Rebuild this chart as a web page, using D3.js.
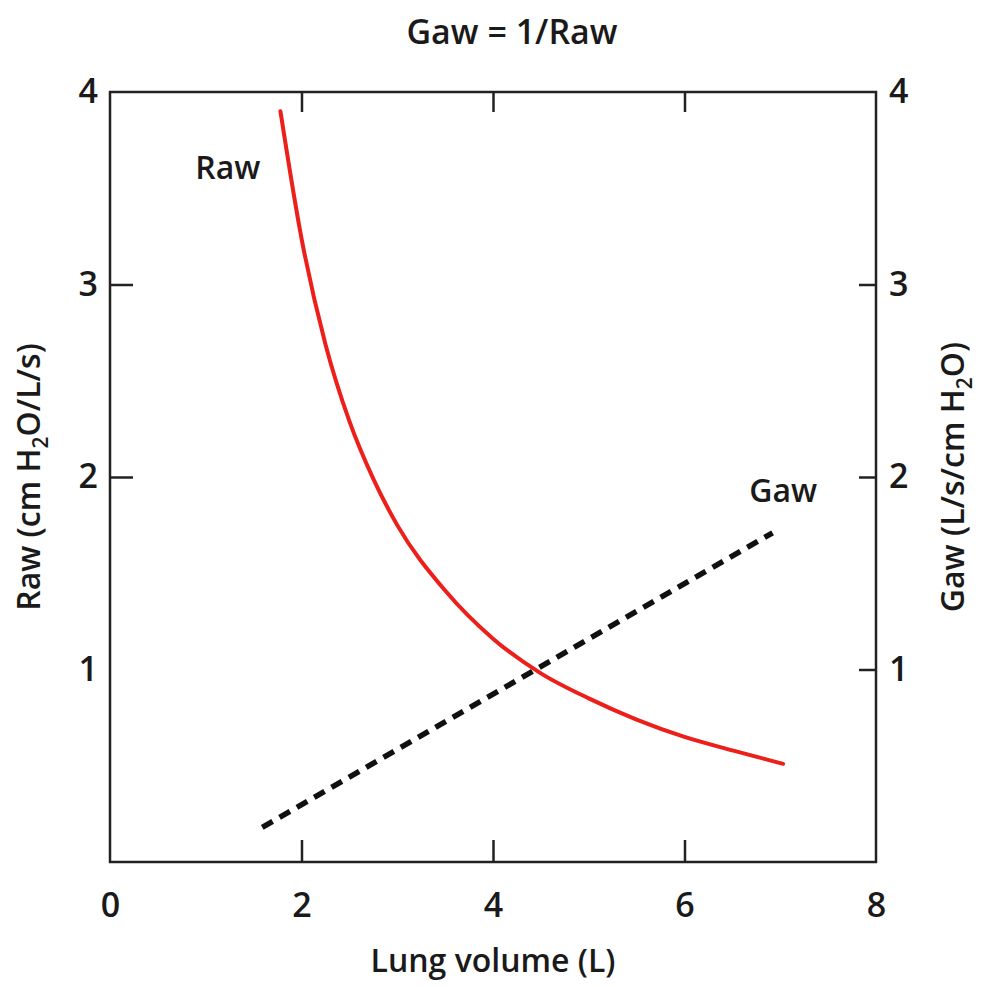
<!DOCTYPE html>
<meta charset="utf-8">
<style>
body {
    margin: 0;
    background: #fff;
    font-family: "Open Sans", "Noto Sans", sans-serif;
}
text {
    font-weight: 600;
    fill: #1a1a1a;
}
.axis .domain {
    display: none;
}
.axis line {
    stroke: #222;
    stroke-width: 2.5;
}
.axis text {
    font-size: 34px;
    font-family: "Open Sans", sans-serif;
    font-weight: 600;
    fill: #1a1a1a;
}
</style>
<body>
<svg width="982" height="987"></svg>
<script src="https://cdn.jsdelivr.net/npm/d3@7"></script>
<script>

// lung volume (L) vs airway resistance
var rawVolume = [1.78, 2.00, 2.25, 2.50, 2.75, 3.00, 3.50, 4.00, 4.50, 5.00, 5.50, 6.00, 6.50, 7.03];
var rawValues = [3.90, 3.24, 2.69, 2.29, 1.99, 1.75, 1.41, 1.16, 0.98, 0.85, 0.74, 0.65, 0.58, 0.51];

// conductance line (dashed), right axis
var gawVolume = [1.59, 6.92];
var gawValues = [0.18, 1.71];

var xTicks = [0, 2, 4, 6, 8];
var yTicks = [1, 2, 3, 4];
var xTickMarks = [2, 4, 6];
var leftTickMarks = [2, 3];
var rightTickMarks = [1, 2, 3];

var margin = {top: 92, right: 106, bottom: 125, left: 110};
var svg = d3.select("svg");
var width = 982 - margin.left - margin.right;
var height = 987 - margin.top - margin.bottom;

var x = d3.scaleLinear().domain([0, 8]).range([0, width]);
var y = d3.scaleLinear().domain([0, 4]).range([height, 0]);
var y2 = d3.scaleLinear().domain([0, 4]).range([height, 0]);

var g = svg.append("g")
    .attr("transform", "translate(" + margin.left + "," + margin.top + ")");

// bottom axis: labels at every tick, marks only inside at 2,4,6
var bottom = g.append("g")
    .attr("class", "axis")
    .attr("transform", "translate(0," + height + ")")
    .call(d3.axisBottom(x).tickValues(xTicks).tickSize(-22).tickPadding(31).tickFormat(d3.format("d")));
bottom.selectAll(".tick line").style("display", function(d) { return xTickMarks.indexOf(d) < 0 ? "none" : null; });

// top axis: inside marks, no labels
g.append("g")
    .attr("class", "axis")
    .call(d3.axisTop(x).tickValues(xTickMarks).tickSize(-20).tickFormat(""));

var left = g.append("g")
    .attr("class", "axis")
    .call(d3.axisLeft(y).tickValues(yTicks).tickSize(-23).tickPadding(12).tickFormat(d3.format("d")));
left.selectAll(".tick line").style("display", function(d) { return leftTickMarks.indexOf(d) < 0 ? "none" : null; });

var right = g.append("g")
    .attr("class", "axis")
    .attr("transform", "translate(" + width + ",0)")
    .call(d3.axisRight(y2).tickValues(yTicks).tickSize(-17).tickPadding(13).tickFormat(d3.format("d")));
right.selectAll(".tick line").style("display", function(d) { return rightTickMarks.indexOf(d) < 0 ? "none" : null; });

// frame
g.append("rect")
    .attr("width", width)
    .attr("height", height)
    .attr("fill", "none")
    .attr("stroke", "#222")
    .attr("stroke-width", 2.5);

// curves
var rawData = rawVolume.map(function(v, i) { return {v: v, r: rawValues[i]}; });
var gawData = gawVolume.map(function(v, i) { return {v: v, r: gawValues[i]}; });

g.append("path")
    .datum(gawData)
    .attr("fill", "none")
    .attr("stroke", "#111")
    .attr("stroke-width", 5.5)
    .attr("stroke-dasharray", "12,8")
    .attr("d", d3.line().x(function(d) { return x(d.v); }).y(function(d) { return y2(d.r); }));

g.append("path")
    .datum(rawData)
    .attr("fill", "none")
    .attr("stroke", "#ec1f1a")
    .attr("stroke-width", 4)
    .attr("stroke-linecap", "round")
    .attr("d", d3.line().curve(d3.curveMonotoneX).x(function(d) { return x(d.v); }).y(function(d) { return y(d.r); }));

// in-plot labels
g.append("text")
    .attr("x", x(1.23))
    .attr("y", y(3.55))
    .attr("text-anchor", "middle")
    .style("font-size", "32px")
    .text("Raw");

g.append("text")
    .attr("x", x(7.03))
    .attr("y", y(1.87))
    .attr("text-anchor", "middle")
    .style("font-size", "32px")
    .text("Gaw");

// title and axis titles
svg.append("text")
    .attr("x", 512)
    .attr("y", 44)
    .attr("text-anchor", "middle")
    .style("font-size", "34px")
    .text("Gaw = 1/Raw");

svg.append("text")
    .attr("x", margin.left + width / 2)
    .attr("y", 972)
    .attr("text-anchor", "middle")
    .style("font-size", "32px")
    .text("Lung volume (L)");

var yl = svg.append("text")
    .attr("transform", "translate(40," + (margin.top + y(2)) + ") rotate(-90)")
    .attr("text-anchor", "middle")
    .style("font-size", "32px");
yl.append("tspan").text("Raw (cm H");
yl.append("tspan").attr("dy", 8).style("font-size", "21px").text("2");
yl.append("tspan").attr("dy", -8).text("O/L/s)");

var yr = svg.append("text")
    .attr("transform", "translate(964," + (margin.top + y(2)) + ") rotate(-90)")
    .attr("text-anchor", "middle")
    .style("font-size", "32px");
yr.append("tspan").text("Gaw (L/s/cm H");
yr.append("tspan").attr("dy", 8).style("font-size", "21px").text("2");
yr.append("tspan").attr("dy", -8).text("O)");

</script>
